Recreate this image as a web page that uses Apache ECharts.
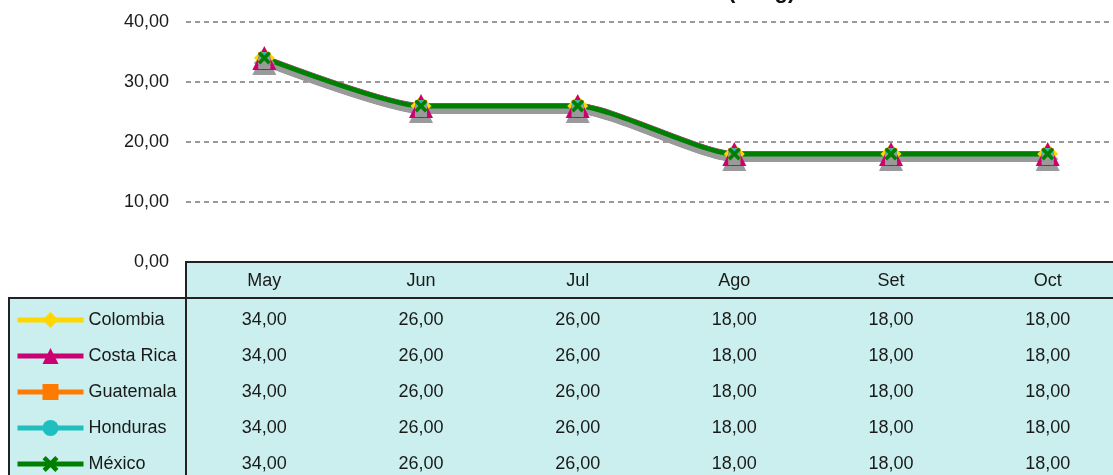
<!DOCTYPE html>
<html>
<head>
<meta charset="utf-8">
<script src="https://cdn.jsdelivr.net/npm/echarts@6/dist/echarts.min.js"></script>
<style>
html,body{margin:0;padding:0;background:#fff;}
#c{width:1113px;height:475px;}
</style>
</head>
<body>
<div id="c"></div>
<script>
var months = ['May', 'Jun', 'Jul', 'Ago', 'Set', 'Oct'];
var countries = ['Colombia', 'Costa Rica', 'Guatemala', 'Honduras', 'México'];
var colombia  = [34, 26, 26, 18, 18, 18];
var costaRica = [34, 26, 26, 18, 18, 18];
var guatemala = [34, 26, 26, 18, 18, 18];
var honduras  = [34, 26, 26, 18, 18, 18];
var mexico    = [34, 26, 26, 18, 18, 18];
var yTicks = [0, 10, 20, 30, 40];
var titleText = '(S/.kg)';

var seriesData = [colombia, costaRica, guatemala, honduras, mexico];
var colors = ['#FFD700', '#CC0070', '#FF7A00', '#1FBFBF', '#008000'];
var xPath = 'path://M0,2 L2,0 L5,3 L8,0 L10,2 L7,5 L10,8 L8,10 L5,7 L2,10 L0,8 L3,5 Z';
var symbols = ['diamond', 'triangle', 'rect', 'circle', xPath];
var sizes = [21, 24, 12, 12, 13];
var widths = [5, 6, 5, 5, 5];

function fmt(v) { return v.toFixed(2).replace('.', ','); }
var FONT = '"Liberation Sans", Arial, sans-serif';
var TXT = '#1a1a1a';

var chart = echarts.init(document.getElementById('c'), null, {renderer: 'canvas'});

var xAxes = [{
  type: 'category', data: months, gridIndex: 0, position: 'bottom',
  boundaryGap: true,
  axisLine: {show: true, lineStyle: {color: '#222', width: 2}},
  axisTick: {show: false},
  axisLabel: {interval: 0, margin: 10, fontSize: 18, fontFamily: FONT, color: TXT, lineHeight: 18},
  splitLine: {show: false}
}];
seriesData.forEach(function (arr, i) {
  xAxes.push({
    type: 'category', data: months, gridIndex: 0, position: 'bottom',
    offset: 40 + 36 * i, boundaryGap: true,
    axisLine: {show: false}, axisTick: {show: false}, splitLine: {show: false},
    axisLabel: {interval: 0, margin: 9, fontSize: 18, fontFamily: FONT, color: TXT, lineHeight: 18,
      formatter: function (v, idx) { return fmt(arr[idx]); }}
  });
});

var series = countries.map(function (name, i) {
  return {
    name: name, type: 'line', xAxisIndex: 0, yAxisIndex: 0,
    data: seriesData[i], smooth: 0.2,
    symbol: symbols[i], symbolSize: sizes[i],
    lineStyle: {color: colors[i], width: widths[i], shadowColor: '#9a9a9a', shadowOffsetY: 5, shadowBlur: 0},
    itemStyle: {color: colors[i], shadowColor: '#9a9a9a', shadowOffsetY: 5, shadowBlur: 0},
    emphasis: {disabled: true},
    animation: false
  };
});

var option = {
  animation: false,
  grid: {left: 186, top: 22, right: -13, bottom: 213, containLabel: false, outerBoundsMode: 'none'},
  xAxis: xAxes,
  yAxis: {
    type: 'value', min: 0, max: 40, interval: 10,
    axisLine: {show: false}, axisTick: {show: false},
    axisLabel: {margin: 17, fontSize: 18, fontFamily: FONT, color: TXT,
      formatter: function (v) { return fmt(v); }},
    splitLine: {show: true, lineStyle: {color: '#7a7a7a', width: 1.5, type: [5, 4]}}
  },
  legend: {
    data: countries, orient: 'vertical', left: 15, top: 310, height: 220, padding: 0,
    itemWidth: 66, itemHeight: 20, itemGap: 16,
    selectedMode: false,
    textStyle: {fontSize: 18, fontFamily: FONT, color: TXT, lineHeight: 20},
    lineStyle: {shadowColor: 'rgba(0,0,0,0)', shadowOffsetY: 0, width: 5},
    itemStyle: {shadowColor: 'rgba(0,0,0,0)', shadowOffsetY: 0}
  },
  graphic: [
    {type: 'rect', z: -10, shape: {x: 186, y: 262, width: 940, height: 220}, style: {fill: '#CBEEEE'}},
    {type: 'rect', z: -10, shape: {x: 8, y: 298, width: 178, height: 190}, style: {fill: '#CBEEEE'}},
    {type: 'line', z: 50, shape: {x1: 186, y1: 261, x2: 186, y2: 480}, style: {stroke: '#222', lineWidth: 2}},
    {type: 'line', z: 50, shape: {x1: 8, y1: 298, x2: 1120, y2: 298}, style: {stroke: '#222', lineWidth: 2}},
    {type: 'line', z: 50, shape: {x1: 9, y1: 298, x2: 9, y2: 480}, style: {stroke: '#222', lineWidth: 2}},
    {type: 'text', z: 50, x: 728, y: -8, style: {text: titleText, font: 'bold 22px "Liberation Sans", Arial, sans-serif', fill: '#111', verticalAlign: 'middle', align: 'left'}}
  ],
  series: series
};
chart.setOption(option);
</script>
</body>
</html>
